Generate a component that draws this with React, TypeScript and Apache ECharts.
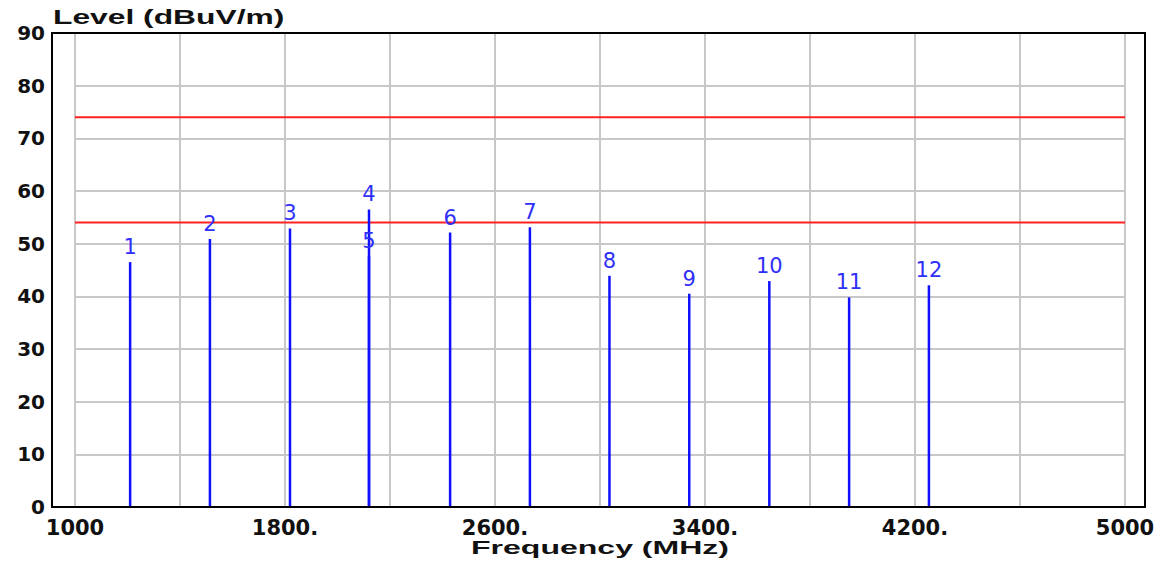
import React, { useEffect, useRef } from "react";
import * as echarts from "echarts";

// ---- data ----
const FREQ_START = 1000; // MHz, left edge of the frequency axis
const FREQ_END = 5000;
const FREQ_STEP = 400;
const MARKERS = ["1", "2", "3", "4", "5", "6", "7", "8", "9", "10", "11", "12"];
const FREQS = [1210, 1514, 1819, 2120, 2120, 2429, 2733, 3036, 3340, 3645, 3949, 4253];
const LEVELS = [46.5, 50.9, 52.9, 56.5, 47.7, 52.1, 53.1, 43.9, 40.5, 42.9, 39.8, 42.1];
const LIMITS = [74, 54];
const X_TICK_VALUES = [1000, 1800, 2600, 3400, 4200, 5000];
const X_TICK_LABELS = ["1000", "1800.", "2600.", "3400.", "4200.", "5000"];
const Y_MIN = 0;
const Y_MAX = 90;
const Y_STEP = 10;
const Y_TITLE = "Level (dBuV/m)";
const X_TITLE = "Frequency (MHz)";

export default function App() {
  const ref = useRef<HTMLDivElement>(null);

  useEffect(() => {
    if (!ref.current) return;
    const chart = echarts.init(ref.current, null, { renderer: "svg" });

    const stemData = FREQS.map((f, i) => [f - FREQ_START, LEVELS[i], i]);

    const limitSeries = LIMITS.map((v) => ({
      type: "line",
      data: [
        [0, v],
        [FREQ_END - FREQ_START, v],
      ],
      symbol: "none",
      silent: true,
      lineStyle: { color: "#ff2222", width: 2 },
      z: 3,
    }));

    chart.setOption({
      animation: false,
      backgroundColor: "#ffffff",
      grid: { left: 75, right: 47, top: 33, bottom: 55, containLabel: false },
      xAxis: {
        type: "value",
        min: 0,
        max: FREQ_END - FREQ_START,
        interval: FREQ_STEP,
        axisLine: { show: false },
        axisTick: { show: false },
        splitLine: { show: true, lineStyle: { color: "#c8c8c8", width: 2 } },
        axisLabel: {
          margin: 10,
          color: "#111111",
          fontFamily: "DejaVu Sans",
          fontWeight: "bold",
          fontSize: 21,
          showMinLabel: true,
          showMaxLabel: true,
          formatter: (v: number) => {
            const idx = X_TICK_VALUES.indexOf(Math.round(v + FREQ_START));
            return idx >= 0 ? X_TICK_LABELS[idx] : "";
          },
        },
      },
      yAxis: {
        type: "value",
        min: Y_MIN,
        max: Y_MAX,
        interval: Y_STEP,
        axisLine: { show: false },
        axisTick: { show: false },
        splitLine: { show: true, lineStyle: { color: "#c8c8c8", width: 2 } },
        axisLabel: {
          margin: 30,
          color: "#111111",
          fontFamily: "DejaVu Sans",
          fontWeight: "bold",
          fontSize: 20,
        },
      },
      graphic: [
        {
          type: "rect",
          shape: { x: 52, y: 33, width: 1093, height: 474 },
          style: { fill: "none", stroke: "#000000", lineWidth: 2 },
          z: 10,
          silent: true,
        },
        {
          type: "text",
          x: 53,
          y: 17,
          scaleX: 1.59,
          style: {
            text: Y_TITLE,
            fill: "#111111",
            font: "bold 20px 'Liberation Sans', Arial, sans-serif",
            align: "left",
            verticalAlign: "middle",
          },
          z: 10,
        },
        {
          type: "text",
          x: 600,
          y: 548,
          scaleX: 1.78,
          style: {
            text: X_TITLE,
            fill: "#111111",
            font: "bold 18px 'Liberation Sans', Arial, sans-serif",
            align: "center",
            verticalAlign: "middle",
          },
          z: 10,
        },
      ],
      series: [
        ...limitSeries,
        {
          type: "custom",
          data: stemData,
          z: 5,
          clip: false,
          renderItem: (params: any, api: any) => {
            const x = api.value(0);
            const y = api.value(1);
            const idx = api.value(2);
            const top = api.coord([x, y]);
            const base = api.coord([x, 0]);
            return {
              type: "group",
              children: [
                {
                  type: "line",
                  shape: { x1: top[0], y1: top[1], x2: base[0], y2: base[1] },
                  style: { stroke: "#1010ff", lineWidth: 2.5 },
                },
                {
                  type: "text",
                  x: top[0],
                  y: top[1] - 15,
                  style: {
                    text: MARKERS[idx],
                    fill: "#2f2ff8",
                    font: "21px 'DejaVu Sans', sans-serif",
                    align: "center",
                    verticalAlign: "middle",
                  },
                },
              ],
            };
          },
        },
      ],
    });

    return () => chart.dispose();
  }, []);

  return (
    <div
      ref={ref}
      style={{ position: "fixed", left: 0, top: 0, width: 1172, height: 562, background: "#fff" }}
    />
  );
}
